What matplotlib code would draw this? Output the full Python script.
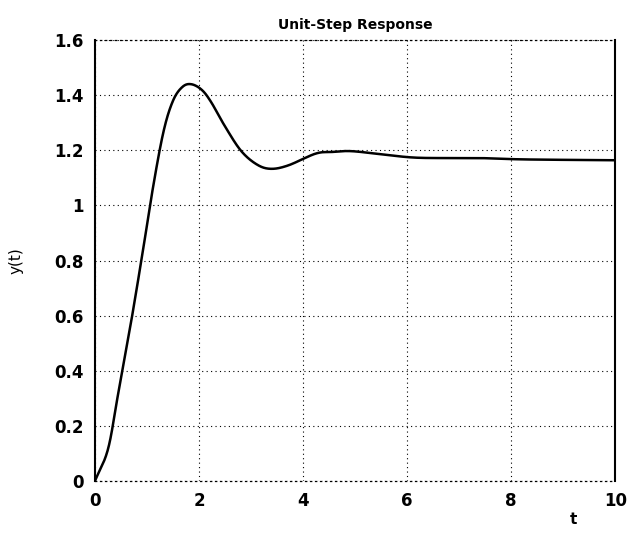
import matplotlib
matplotlib.use("Agg")
import matplotlib.pyplot as plt
import numpy as np

# response samples
t_vals = [0, 0.25, 0.44, 0.67, 0.9, 1.12, 1.32, 1.5, 1.68, 1.85, 2.05, 2.23, 2.49, 2.8, 3.1,
          3.37, 3.71, 4.24, 4.55, 4.93, 5.54, 6.22, 7.36, 8.27, 10]
y_vals = [0, 0.115, 0.31, 0.55, 0.81, 1.07, 1.27, 1.38, 1.43, 1.44, 1.42, 1.376, 1.29, 1.2, 1.15,
          1.133, 1.145, 1.188, 1.194, 1.197, 1.185, 1.173, 1.172, 1.167, 1.164]

x_ticks = [0, 2, 4, 6, 8, 10]
x_ticklabels = ["0", "2", "4", "6", "8", "10"]
y_ticks = [0, 0.2, 0.4, 0.6, 0.8, 1.0, 1.2, 1.4, 1.6]
y_ticklabels = ["0", "0.2", "0.4", "0.6", "0.8", "1", "1.2", "1.4", "1.6"]

fig = plt.figure(figsize=(6.33, 5.35), dpi=100)
ax = fig.add_axes([0.150, 0.101, 0.822, 0.824])


def catmull(xs, ys, n=30):
    xs = np.asarray(xs, float); ys = np.asarray(ys, float)
    px = np.concatenate([[2*xs[0]-xs[1]], xs, [2*xs[-1]-xs[-2]]])
    py = np.concatenate([[2*ys[0]-ys[1]], ys, [2*ys[-1]-ys[-2]]])
    ox, oy = [], []
    for i in range(1, len(px)-2):
        s = np.linspace(0, 1, n, endpoint=False)
        for arr, out in ((px, ox), (py, oy)):
            p0, p1, p2, p3 = arr[i-1], arr[i], arr[i+1], arr[i+2]
            out.extend(0.5*((2*p1) + (-p0+p2)*s + (2*p0-5*p1+4*p2-p3)*s**2 + (-p0+3*p1-3*p2+p3)*s**3))
    ox.append(xs[-1]); oy.append(ys[-1])
    return np.array(ox), np.array(oy)


cx, cy = catmull(t_vals, y_vals)
ax.plot(cx, cy, color="black", lw=1.8)

ax.set_xlim(0, 10)
ax.set_ylim(0, 1.6)
ax.set_xticks(x_ticks)
ax.set_xticklabels(x_ticklabels, fontsize=12, fontweight="bold")
ax.set_yticks(y_ticks)
ax.set_yticklabels(y_ticklabels, fontsize=12, fontweight="bold")
ax.tick_params(length=0, pad=8)

ax.grid(True, color="black", linestyle=(0, (1, 3)), lw=0.8)
for side in ("top", "bottom"):
    ax.spines[side].set_linestyle((0, (1, 3)))
    ax.spines[side].set_linewidth(0.9)
for side in ("left", "right"):
    ax.spines[side].set_linewidth(1.5)

ax.set_title("Unit-Step Response", fontsize=10, fontweight="bold", pad=8)
ax.set_xlabel("t", fontsize=11, fontweight="bold", labelpad=2)
ax.xaxis.set_label_coords(0.92, -0.07)
ax.set_ylabel("y(t)", fontsize=11, labelpad=22)

fig.savefig("out.png", dpi=100)
